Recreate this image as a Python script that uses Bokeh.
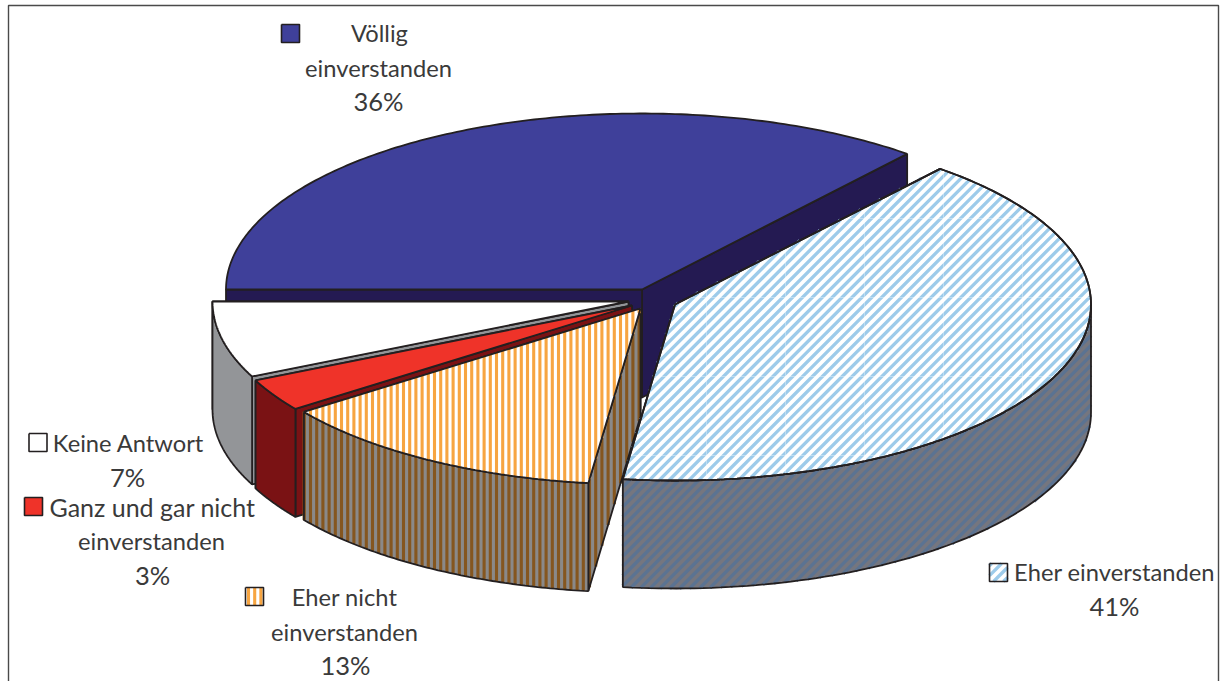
import numpy as np
from bokeh.plotting import figure
from bokeh.models import Range1d
from bokeh.core.properties import value
from bokeh.embed import file_html
from bokeh.resources import INLINE

# ---- data ----
categories = ["Völlig einverstanden", "Eher einverstanden", "Eher nicht einverstanden",
              "Ganz und gar nicht einverstanden", "Keine Antwort"]
shares = [36, 41, 13, 3, 7]
label_lines = [["Völlig", "einverstanden", "36%"],
               ["Eher einverstanden", "41%"],
               ["Eher nicht", "einverstanden", "13%"],
               ["Ganz und gar nicht", "einverstanden", "3%"],
               ["Keine Antwort", "7%"]]

# ---- layout / style ----
W, H = 1222, 681
RX, RY, DEPTH = 416, 176, 108
centers = [(641.5, 289), (674.5, 304), (640, 308), (631.5, 305), (628, 301)]
paint_order = [0, 4, 3, 2, 1]
INK = "#231f20"
TEXT = "#3a3a3a"
FONT = value("Lato")
FS = 23.7
FS_PCT = 25.5
FS_LONG = 25.0
styles = [
    dict(top="#3f409a", wall="#241a52", top_s=None, wall_s=None),
    dict(top="#ffffff", wall="#75767f", top_s="#9dcbea", wall_s="#5b7392", ang=45, pitch=7.0, sw=3.3),
    dict(top="#ffffff", wall="#8a8989", top_s="#f7a541", wall_s="#85561f", ang=0, pitch=6.2, sw=3.1),
    dict(top="#ef3329", wall="#7a1214", top_s=None, wall_s=None),
    dict(top="#ffffff", wall="#939598", top_s=None, wall_s=None),
]
text_rows = [
    [(379, 32), (378, 67), (378, 100)],
    [(1114, 571), (1114, 605)],
    [(344, 596), (344, 631), (345, 664)],
    [(152, 506), (151, 540), (152, 574)],
    [(128, 442), (127, 476)],
]
marker_pos = [(281, 24), (989, 563), (245, 587), (24, 497), (28.5, 433)]
MS = 18

p = figure(width=W, height=H, output_backend="svg", toolbar_location=None,
           x_range=Range1d(0, W), y_range=Range1d(H, 0), min_border=0,
           x_axis_type="linear", outline_line_color=None)
p.axis.visible = False
p.grid.visible = False
p.background_fill_color = "white"
p.border_fill_color = "white"
p.styles = {"position": "absolute", "left": "0px", "top": "0px"}

# frame
p.line([8, 8, 1218, 1218], [H, 5, 5, H], line_color="#4a4a4a", line_width=1.4)


def stripes(px, py, ang, pitch, phase=0.0):
    """Clip parallel lines (tilted by ang degrees from vertical) to a polygon."""
    a = np.radians(ang)
    c, s = np.cos(a), np.sin(a)
    px, py = np.asarray(px, float), np.asarray(py, float)
    u = px * c + py * s
    v = -px * s + py * c
    xs, ys = [], []
    start = np.floor((u.min() - phase) / pitch) * pitch + phase
    for k in np.arange(start, u.max(), pitch):
        hits = []
        n = len(u)
        for i in range(n):
            j = (i + 1) % n
            if (u[i] <= k) != (u[j] <= k):
                t = (k - u[i]) / (u[j] - u[i])
                hits.append(v[i] + t * (v[j] - v[i]))
        hits.sort()
        for h0, h1 in zip(hits[0::2], hits[1::2]):
            xs.append([k * c - h0 * s, k * c - h1 * s])
            ys.append([k * s + h0 * c, k * s + h1 * c])
    return xs, ys


def face(px, py, fill, stripe=None, st=None, lw=1.8, line=INK):
    p.patch(px, py, fill_color=fill, line_color=None)
    if stripe:
        xs, ys = stripes(px, py, st["ang"], st["pitch"])
        p.multi_line(xs, ys, line_color=stripe, line_width=st["sw"], line_cap="butt")
    closed_x = list(px) + [px[0]]
    closed_y = list(py) + [py[0]]
    p.line(closed_x, closed_y, line_color=line, line_width=lw)


# slice angles follow the shares, clockwise from the 9 o'clock position
bounds = 180 - np.cumsum([0] + shares) * 3.6


def pt(c, t):
    r = np.radians(t)
    return c[0] + RX * np.cos(r), c[1] - RY * np.sin(r)


for idx in paint_order:
    c = centers[idx]
    st = styles[idx]
    t0, t1 = bounds[idx], bounds[idx + 1]
    for t in (t1, t0):
        x, y = pt(c, t)
        face([c[0], x, x, c[0]], [c[1], y, y + DEPTH, c[1] + DEPTH], st["wall"], st["wall_s"], st)
    if t1 < 0:
        ts = np.linspace(min(t0, 0), t1, 80)
        tx, ty = pt(c, ts)
        face(list(tx) + list(tx[::-1]), list(ty) + list(ty[::-1] + DEPTH), st["wall"], st["wall_s"], st)
    ts = np.linspace(t0, t1, 160)
    tx, ty = pt(c, ts)
    face([c[0]] + list(tx), [c[1]] + list(ty), st["top"], st["top_s"], st)

# faint seams of the pattern tiles on the light blue slice
c = centers[1]
ts = np.linspace(bounds[1], bounds[2], 160)
tx, ty = pt(c, ts)
sx, sy = [c[0]] + list(tx), [c[1]] + list(ty)
xs, ys = stripes(sx, sy, 0, 79, 706 % 79)
p.multi_line(xs, ys, line_color="#ffffff", line_alpha=0.35, line_width=1)
xs, ys = stripes(sx, sy, 90, 79, 218 % 79)
p.multi_line(xs, ys, line_color="#ffffff", line_alpha=0.35, line_width=1)
p.line(sx + [sx[0]], sy + [sy[0]], line_color=INK, line_width=1.8)

# labels
for lines, rows in zip(label_lines, text_rows):
    for line, (tx_, ty_) in zip(lines, rows):
        size = FS_PCT if line.endswith("%") else (FS_LONG if line.startswith("Ganz") else FS)
        p.text([tx_], [ty_], text=[line], text_align="center", text_baseline="middle",
               text_font=FONT, text_font_size=f"{size}px", text_color=TEXT)

# legend keys
for (mx, my), st in zip(marker_pos, styles):
    key = [mx, mx + MS, mx + MS, mx], [my, my, my + MS, my + MS]
    face(key[0], key[1], st["top"], st["top_s"], st, lw=1.6)

open("out.html", "w").write(file_html(p, INLINE))
